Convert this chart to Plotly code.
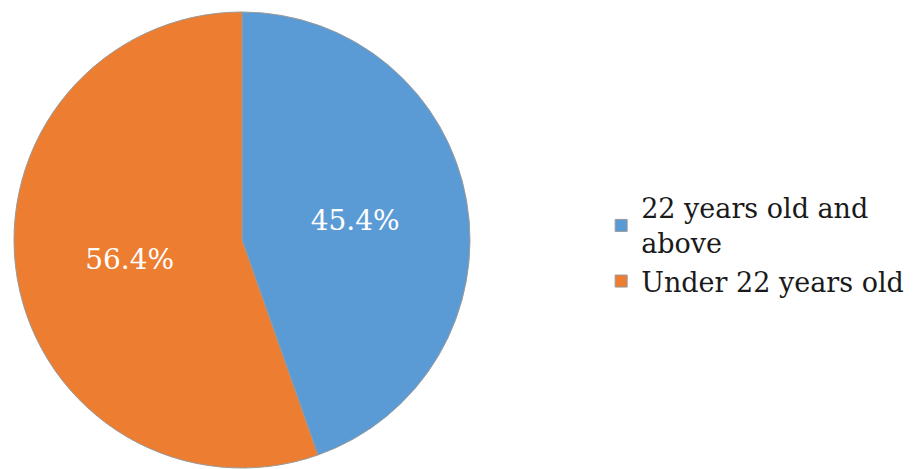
import plotly.graph_objects as go

# Age groups and their shares (percent)
labels = ["22 years old and<br>above", "Under 22 years old"]
shares = [45.4, 56.4]
colors = ["#5B9BD5", "#ED7D31"]

SERIF = "DejaVu Serif"

fig = go.Figure(
    go.Pie(
        labels=labels,
        values=shares,
        sort=False,
        direction="clockwise",
        rotation=0,
        marker=dict(colors=colors, line=dict(color="#9a9a9a", width=1)),
        texttemplate="%{value}%",
        textposition="inside",
        insidetextorientation="horizontal",
        textfont=dict(family=SERIF, size=28, color="white"),
        hoverinfo="label+value",
        domain=dict(x=[12 / 915, 472 / 915], y=[1 / 469, 457 / 469]),
    )
)

fig.update_layout(
    width=915,
    height=469,
    margin=dict(l=0, r=0, t=0, b=0, autoexpand=False),
    paper_bgcolor="white",
    plot_bgcolor="white",
    font=dict(family=SERIF),
    showlegend=True,
    legend=dict(
        x=0.657,
        y=0.478,
        xanchor="left",
        yanchor="middle",
        font=dict(family=SERIF, size=27, color="#1a1a1a"),
        tracegroupgap=0,
        itemwidth=30,
    ),
)

fig.write_html("out.html")
